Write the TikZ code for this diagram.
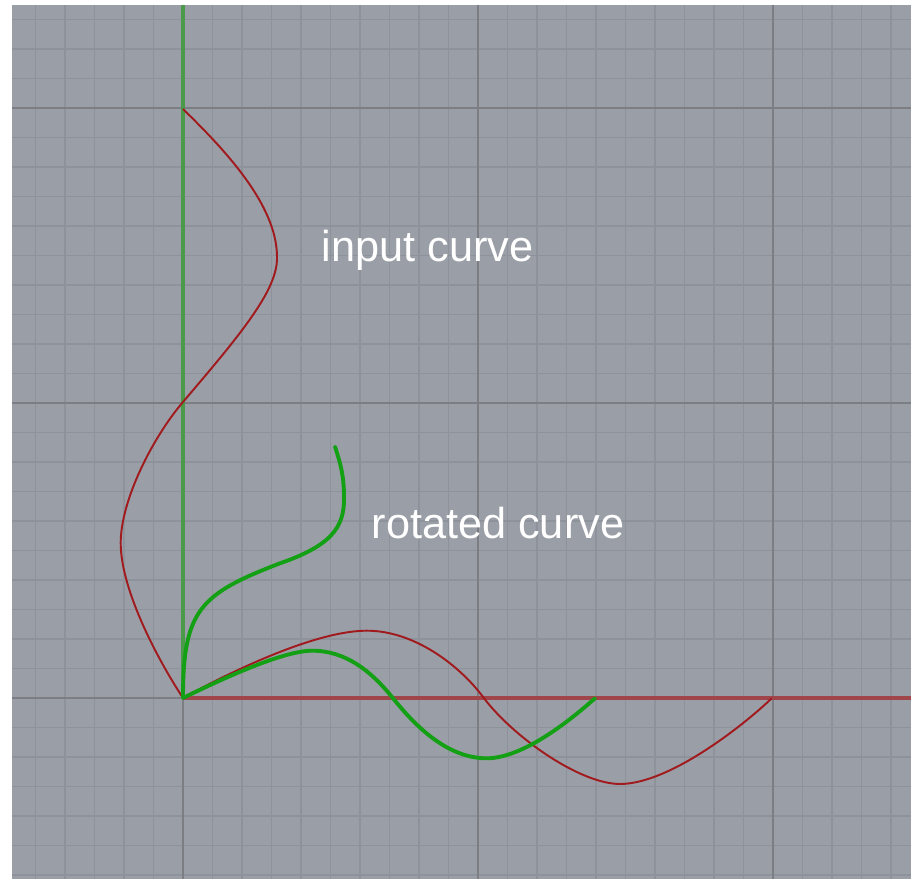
\documentclass[tikz,border=0pt]{standalone}
\usepackage{fontspec}
\setmainfont{Liberation Sans}
\definecolor{bg}{RGB}{154,158,166}
\definecolor{minorgrid}{RGB}{142,146,154}
\definecolor{majorgrid}{RGB}{124,126,131}
\definecolor{curvered}{RGB}{160,26,30}
\definecolor{axisred}{RGB}{160,70,74}
\definecolor{axisgreen}{RGB}{74,154,74}
\definecolor{curvegreen}{RGB}{20,160,20}
\tikzset{
  minorline/.style={draw=minorgrid, line width=0.45pt},
  majorline/.style={draw=majorgrid, line width=0.6pt},
  inputcurve/.style={draw=curvered, line width=0.55pt},
  rotcurve/.style={draw=curvegreen, line width=1.1pt, line cap=round},
  label/.style={text=white, font=\fontsize{12.3pt}{14pt}\selectfont, anchor=base west, inner sep=0pt}
}
\begin{document}
\begin{tikzpicture}[x=0.01cm,y=-0.01cm]
\useasboundingbox (0,0) rectangle (911,879);
\fill[white] (0,0) rectangle (911,879);
\fill[bg] (12,5) rectangle (911,879);
% minor grid
\foreach \i in {-5,...,24} {
  \pgfmathsetmacro{\xx}{183+29.5*\i}
  \draw[minorline] (\xx,5) -- (\xx,879);
}
\foreach \j in {-23,...,6} {
  \pgfmathsetmacro{\yy}{698+29.5*\j}
  \draw[minorline] (12,\yy) -- (911,\yy);
}
% major grid
\foreach \xx in {183,478,773} \draw[majorline] (\xx,5) -- (\xx,879);
\foreach \yy in {108,403,698} \draw[majorline] (12,\yy) -- (911,\yy);
% axes
\coordinate (o) at (183,698);
\coordinate (ytop) at (183,5);
\coordinate (xend) at (911,698);
\draw[axisgreen, line width=1.0pt] (o) -- (ytop);
\draw[axisred, line width=1.1pt] (o) -- (xend);
% input curve (vertical)
\coordinate (v0) at (183,109);
\coordinate (v1) at (277,257);
\coordinate (v2) at (183,402);
\coordinate (v3) at (120.7,543);
\draw[inputcurve] (v0) .. controls (225,150) and (277,205) .. (v1)
  .. controls (278,290) and (240,335) .. (v2)
  .. controls (153,437) and (120.7,500) .. (v3)
  .. controls (120.7,590) and (158,660) .. (o);
% input curve (horizontal)
\coordinate (h1) at (366.7,630.7);
\coordinate (h2) at (483.3,697.3);
\coordinate (h3) at (620,784);
\coordinate (h4) at (771.7,698.3);
\draw[inputcurve] (o) .. controls (243,665) and (320,630.7) .. (h1)
  .. controls (415,630.7) and (460,666) .. (h2)
  .. controls (513,737) and (580,784) .. (h3)
  .. controls (670,784) and (745,724) .. (h4);
% rotated curve (horizontal part)
\coordinate (g1) at (312,650.7);
\coordinate (gi) at (392,697);
\coordinate (g2) at (486.7,758.3);
\coordinate (g3) at (595,698.3);
\draw[rotcurve] (o) .. controls (230,675) and (285,650.7) .. (g1)
  .. controls (345,650.7) and (370,670) .. (gi)
  .. controls (412,722) and (445,758.3) .. (g2)
  .. controls (525,758.3) and (575,716) .. (g3);
% rotated curve (vertical part)
\coordinate (r1) at (280,563.3);
\coordinate (r2) at (344,496.7);
\coordinate (r3) at (335,446.7);
\draw[rotcurve] (o) .. controls (183,610) and (200,594) .. (r1)
  .. controls (330,546) and (345,528) .. (r2)
  .. controls (344,475) and (340,462) .. (r3);
% labels
\node[label] (inlabel) at (321,262) {input curve};
\node[label] (rotlabel) at (371,539) {rotated curve};
\end{tikzpicture}
\end{document}
